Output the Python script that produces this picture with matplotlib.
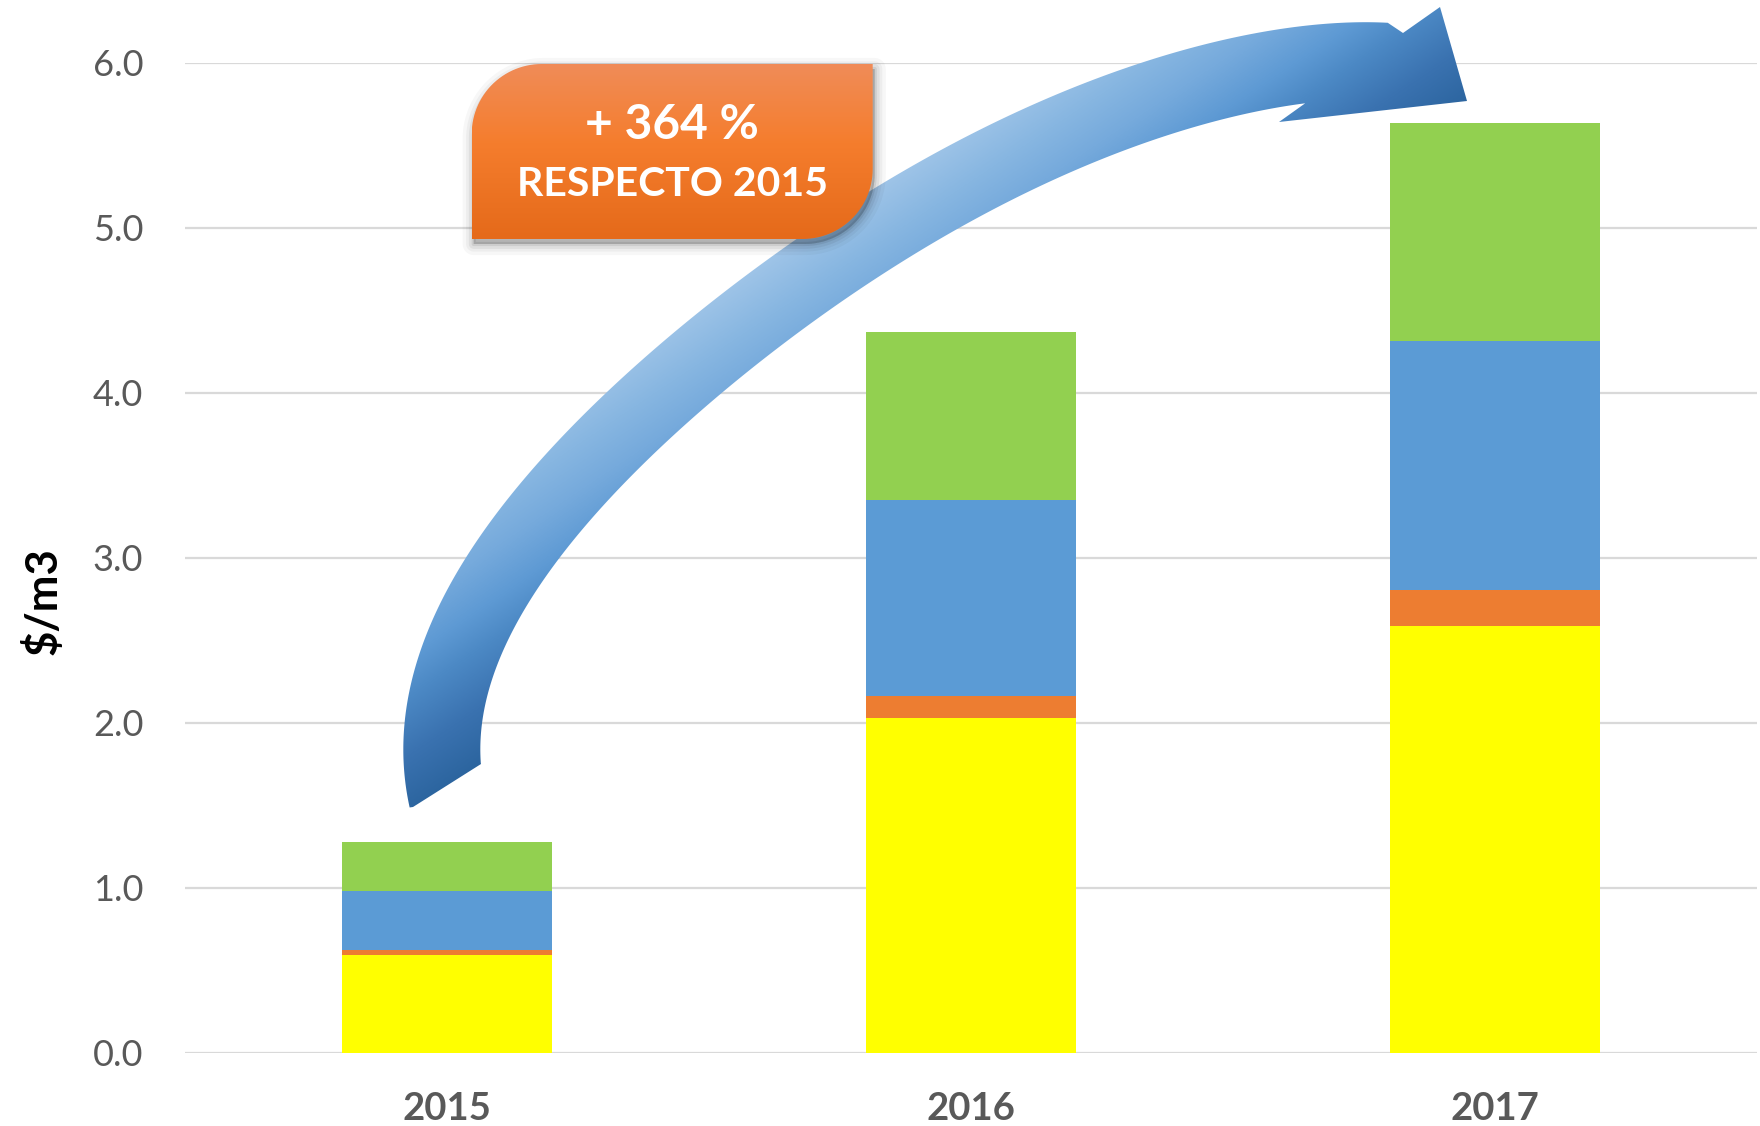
import numpy as np
import matplotlib
matplotlib.use("Agg")
import matplotlib.pyplot as plt
from matplotlib.patches import Polygon
from matplotlib.colors import LinearSegmentedColormap

# ---------------- data ----------------
years = ["2015", "2016", "2017"]
serie_amarilla = [0.59, 2.03, 2.585]
serie_naranja = [0.03, 0.13, 0.22]
serie_azul = [0.36, 1.19, 1.51]
serie_verde = [0.30, 1.02, 1.32]
series = [serie_amarilla, serie_naranja, serie_azul, serie_verde]
series_colors = ["#FFFF00", "#ED7D31", "#5B9BD5", "#92D050"]
yticks = [0, 1, 2, 3, 4, 5, 6]
ylabel = "\\$/m3"
callout_line1 = "+ 364 %"
callout_line2 = "RESPECTO 2015"

plt.rcParams['font.family'] = ['Lato', 'DejaVu Sans']

W, H = 1760, 1126
fig = plt.figure(figsize=(W / 100, H / 100), dpi=100)
fig.patch.set_facecolor("white")

ax_left, ax_right = 185, 1757
ax_top, ax_bottom = 62.7, 1052.7
ax = fig.add_axes([ax_left / W, 1 - ax_bottom / H, (ax_right - ax_left) / W, (ax_bottom - ax_top) / H])

x = np.arange(len(years))
bottom = np.zeros(len(years))
for vals, col in zip(series, series_colors):
    ax.bar(x, vals, width=0.4, bottom=bottom, color=col, edgecolor="none", zorder=3)
    bottom = bottom + np.array(vals)

ax.set_xlim(-0.5, 2.5)
ax.set_ylim(0, 6)
ax.set_yticks(yticks)
ax.set_yticklabels([f"{v:.1f}" for v in yticks], fontsize=26, color="#595959")
ax.set_xticks(x)
ax.set_xticklabels(years, fontsize=27.5, fontweight="bold", color="#595959")
ax.tick_params(axis="y", length=0, pad=30)
ax.tick_params(axis="x", length=0, pad=28)
ax.yaxis.grid(True, color="#D9D9D9", linewidth=1.6, zorder=0)
ax.set_axisbelow(True)
for s in ax.spines.values():
    s.set_visible(False)
ax.set_facecolor("none")

fig.text(43 / W, 1 - 601 / H, ylabel, rotation=90, ha="center", va="center",
         fontsize=31.5, fontweight="bold", color="black")

# ---------------- overlay (annotations in pixel coords) ----------------
ov = fig.add_axes([0, 0, 1, 1], zorder=5)
ov.set_axis_off()
ov.patch.set_visible(False)

# centre line of the curved arrow body (figure pixels, y downwards)
centre = np.array([(447, 786), (440, 740), (448, 680), (462, 650), (489, 600), (520, 548),
                   (581, 471), (663, 394), (753, 318), (862, 239), (980, 176), (1122, 109),
                   (1235, 77), (1330, 62)], float)
half_w = 38.5
seg = np.hypot(*np.diff(centre, axis=0).T)
u = np.concatenate([[0], np.cumsum(seg)])
u = u / u[-1]
px = np.polyfit(u, centre[:, 0], 5)
py = np.polyfit(u, centre[:, 1], 5)
uu = np.linspace(-0.06, 1.05, 800)
cx, cy = np.polyval(px, uu), np.polyval(py, uu)
dx, dy = np.polyval(np.polyder(px), uu), np.polyval(np.polyder(py), uu)
nrm = np.hypot(dx, dy)
nx, ny = dy / nrm, -dx / nrm
ox, oy = cx + half_w * nx, cy + half_w * ny      # outer edge
ix, iy = cx - half_w * nx, cy - half_w * ny      # inner edge

# tail cut line through two corners
t1, t2 = np.array([413, 807.0]), np.array([481, 764.0])
cut_d = t2 - t1


def side(xp, yp):
    return cut_d[0] * (yp - t1[1]) - cut_d[1] * (xp - t1[0])


keep_side = np.sign(side(cx[-1], cy[-1]))
ok_o = (np.sign(side(ox, oy)) == keep_side) & (ox <= 1403)
ok_i = (np.sign(side(ix, iy)) == keep_side) & (ix <= 1307)
outer = np.column_stack([ox[ok_o], oy[ok_o]])
inner = np.column_stack([ix[ok_i], iy[ok_i]])
head = np.array([(1403, 33), (1440, 7), (1467, 101), (1279, 122), (1307, 102)], float)
arrow_pts = np.vstack([t1[None], outer, head, inner[::-1], t2[None]])
arrow_poly = Polygon(arrow_pts, closed=True, facecolor="none", edgecolor="none")
ov.add_patch(arrow_poly)

gx0, gx1, gy0, gy1 = 380, 1480, 0, 820
gx = np.linspace(gx0, gx1, 700)
gy = np.linspace(gy0, gy1, 520)
GX, GY = np.meshgrid(gx, gy)
sp = 0.67 * GX + GY
tnorm = np.clip((sp - 770) / (1090 - 770), 0, 1)
arrow_cmap = LinearSegmentedColormap.from_list("arr", [
    (0.0, (160 / 255, 197 / 255, 232 / 255)),
    (0.19, (135 / 255, 182 / 255, 225 / 255)),
    (0.34, (118 / 255, 170 / 255, 220 / 255)),
    (0.50, (94 / 255, 154 / 255, 212 / 255)),
    (0.625, (76 / 255, 137 / 255, 197 / 255)),
    (0.81, (58 / 255, 114 / 255, 176 / 255)),
    (1.0, (43 / 255, 100 / 255, 158 / 255)),
])
im = ov.imshow(tnorm, cmap=arrow_cmap, vmin=0, vmax=1, extent=(gx0, gx1, gy1, gy0),
               origin="upper", aspect="auto", interpolation="bilinear", zorder=2)
im.set_clip_path(arrow_poly)

# callout box
bx0, bx1, by0, by1 = 471.7, 872.7, 64, 239
r = 70


def arc(ccx, ccy, a0, a1, n=30):
    a = np.radians(np.linspace(a0, a1, n))
    return np.column_stack([ccx + r * np.cos(a), ccy + r * np.sin(a)])


box_pts = np.vstack([
    arc(bx0 + r, by0 + r, 180, 270),
    [(bx1, by0)],
    arc(bx1 - r, by1 - r, 0, 90),
    [(bx0, by1)],
])

for lw, a in [(16, 0.03), (11, 0.04), (7, 0.06), (3, 0.08)]:
    sh = Polygon(box_pts + np.array([2, 5]), closed=True, facecolor=(0, 0, 0, 0.05),
                 edgecolor=(0, 0, 0, a), linewidth=lw, joinstyle="round", zorder=3)
    ov.add_patch(sh)

box_poly = Polygon(box_pts, closed=True, facecolor="none", edgecolor="none", zorder=4)
ov.add_patch(box_poly)
box_cmap = LinearSegmentedColormap.from_list("box", [
    (0.0, (240 / 255, 140 / 255, 88 / 255)),
    (0.45, (245 / 255, 125 / 255, 45 / 255)),
    (1.0, (229 / 255, 106 / 255, 26 / 255)),
])
bg = np.linspace(0, 1, 200)[:, None] * np.ones((1, 4))
bim = ov.imshow(bg, cmap=box_cmap, vmin=0, vmax=1, extent=(bx0, bx1, by1, by0),
                origin="upper", aspect="auto", interpolation="bilinear", zorder=4)
bim.set_clip_path(box_poly)

ov.text((bx0 + bx1) / 2, 124.6, callout_line1, ha="center", va="center", color="white",
        fontsize=34.5, fontweight="bold", zorder=6)
ov.text((bx0 + bx1) / 2, 185, callout_line2, ha="center", va="center", color="white",
        fontsize=29.5, fontweight="bold", zorder=6)

ov.set_xlim(0, W)
ov.set_ylim(H, 0)

fig.savefig("out.png", dpi=100, facecolor="white")
